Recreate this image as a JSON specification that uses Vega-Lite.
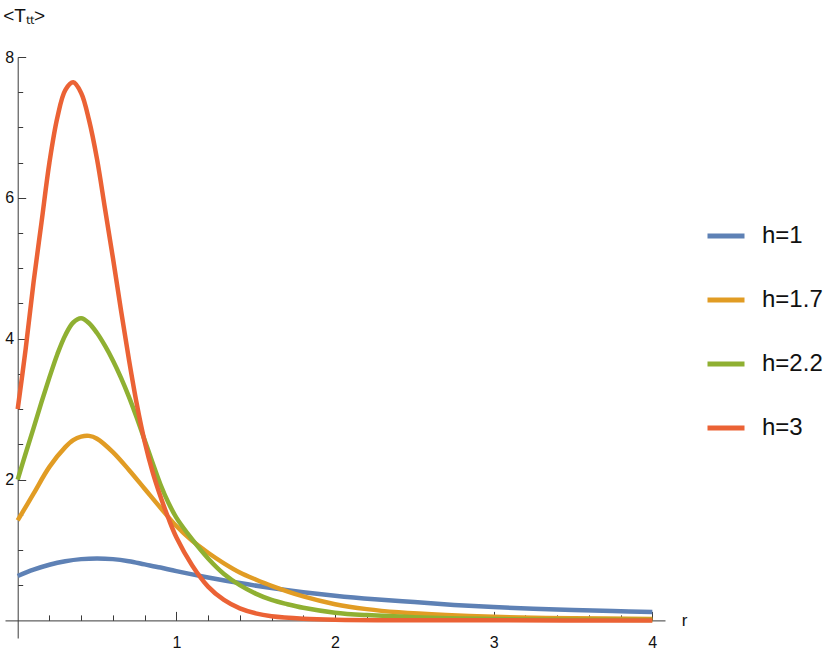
{
  "$schema": "https://vega.github.io/schema/vega-lite/v6.json",
  "width": 660,
  "height": 581,
  "autosize": "none",
  "padding": {"left": 5, "top": 57, "right": 165, "bottom": 26},
  "config": {
    "view": {"stroke": null},
    "axis": {
      "grid": false,
      "domainColor": "#3a3a3a",
      "tickColor": "#3a3a3a",
      "labelColor": "#111111",
      "titleColor": "#111111",
      "labelFont": "Liberation Sans",
      "titleFont": "Liberation Sans",
      "labelFontSize": 16,
      "titleFontSize": 17,
      "titleFontWeight": "normal"
    },
    "legend": {
      "labelFont": "Liberation Sans",
      "labelFontSize": 24,
      "labelColor": "#111111"
    }
  },
  "data": {
    "values": [
      {"h": "h=1", "r": 0, "T": 0.63},
      {"h": "h=1", "r": 0.1, "T": 0.72},
      {"h": "h=1", "r": 0.2, "T": 0.79},
      {"h": "h=1", "r": 0.3, "T": 0.84},
      {"h": "h=1", "r": 0.4, "T": 0.87},
      {"h": "h=1", "r": 0.5, "T": 0.88},
      {"h": "h=1", "r": 0.6, "T": 0.87},
      {"h": "h=1", "r": 0.7, "T": 0.84},
      {"h": "h=1", "r": 0.8, "T": 0.795},
      {"h": "h=1", "r": 0.9, "T": 0.75},
      {"h": "h=1", "r": 1.0, "T": 0.70},
      {"h": "h=1", "r": 1.2, "T": 0.61},
      {"h": "h=1", "r": 1.4, "T": 0.53},
      {"h": "h=1", "r": 1.6, "T": 0.46},
      {"h": "h=1", "r": 1.8, "T": 0.40},
      {"h": "h=1", "r": 2.0, "T": 0.35},
      {"h": "h=1", "r": 2.25, "T": 0.30},
      {"h": "h=1", "r": 2.5, "T": 0.26},
      {"h": "h=1", "r": 2.75, "T": 0.22},
      {"h": "h=1", "r": 3.0, "T": 0.19},
      {"h": "h=1", "r": 3.25, "T": 0.165},
      {"h": "h=1", "r": 3.5, "T": 0.148},
      {"h": "h=1", "r": 3.75, "T": 0.132},
      {"h": "h=1", "r": 4.0, "T": 0.118},
      {"h": "h=1.7", "r": 0, "T": 1.42},
      {"h": "h=1.7", "r": 0.1, "T": 1.80},
      {"h": "h=1.7", "r": 0.2, "T": 2.18},
      {"h": "h=1.7", "r": 0.3, "T": 2.46},
      {"h": "h=1.7", "r": 0.35, "T": 2.56},
      {"h": "h=1.7", "r": 0.4, "T": 2.61},
      {"h": "h=1.7", "r": 0.45, "T": 2.62},
      {"h": "h=1.7", "r": 0.5, "T": 2.58},
      {"h": "h=1.7", "r": 0.6, "T": 2.39},
      {"h": "h=1.7", "r": 0.7, "T": 2.14},
      {"h": "h=1.7", "r": 0.8, "T": 1.87},
      {"h": "h=1.7", "r": 0.9, "T": 1.6},
      {"h": "h=1.7", "r": 1.0, "T": 1.34},
      {"h": "h=1.7", "r": 1.1, "T": 1.13},
      {"h": "h=1.7", "r": 1.2, "T": 0.96},
      {"h": "h=1.7", "r": 1.3, "T": 0.81},
      {"h": "h=1.7", "r": 1.4, "T": 0.68},
      {"h": "h=1.7", "r": 1.5, "T": 0.58},
      {"h": "h=1.7", "r": 1.6, "T": 0.49},
      {"h": "h=1.7", "r": 1.8, "T": 0.34},
      {"h": "h=1.7", "r": 2.0, "T": 0.23},
      {"h": "h=1.7", "r": 2.2, "T": 0.16},
      {"h": "h=1.7", "r": 2.4, "T": 0.115},
      {"h": "h=1.7", "r": 2.7, "T": 0.075},
      {"h": "h=1.7", "r": 3.0, "T": 0.05},
      {"h": "h=1.7", "r": 3.5, "T": 0.03},
      {"h": "h=1.7", "r": 4.0, "T": 0.02},
      {"h": "h=2.2", "r": 0, "T": 2.0},
      {"h": "h=2.2", "r": 0.05, "T": 2.37},
      {"h": "h=2.2", "r": 0.1, "T": 2.73},
      {"h": "h=2.2", "r": 0.15, "T": 3.1},
      {"h": "h=2.2", "r": 0.2, "T": 3.45},
      {"h": "h=2.2", "r": 0.25, "T": 3.78},
      {"h": "h=2.2", "r": 0.3, "T": 4.05},
      {"h": "h=2.2", "r": 0.35, "T": 4.23},
      {"h": "h=2.2", "r": 0.4, "T": 4.29},
      {"h": "h=2.2", "r": 0.45, "T": 4.22},
      {"h": "h=2.2", "r": 0.5, "T": 4.08},
      {"h": "h=2.2", "r": 0.55, "T": 3.9},
      {"h": "h=2.2", "r": 0.6, "T": 3.69},
      {"h": "h=2.2", "r": 0.65, "T": 3.45},
      {"h": "h=2.2", "r": 0.7, "T": 3.18},
      {"h": "h=2.2", "r": 0.75, "T": 2.88},
      {"h": "h=2.2", "r": 0.8, "T": 2.56},
      {"h": "h=2.2", "r": 0.85, "T": 2.24},
      {"h": "h=2.2", "r": 0.9, "T": 1.93},
      {"h": "h=2.2", "r": 0.95, "T": 1.67},
      {"h": "h=2.2", "r": 1.0, "T": 1.46},
      {"h": "h=2.2", "r": 1.1, "T": 1.15},
      {"h": "h=2.2", "r": 1.2, "T": 0.88},
      {"h": "h=2.2", "r": 1.3, "T": 0.66},
      {"h": "h=2.2", "r": 1.4, "T": 0.5},
      {"h": "h=2.2", "r": 1.5, "T": 0.38},
      {"h": "h=2.2", "r": 1.6, "T": 0.29},
      {"h": "h=2.2", "r": 1.7, "T": 0.23},
      {"h": "h=2.2", "r": 1.8, "T": 0.18},
      {"h": "h=2.2", "r": 2.0, "T": 0.11},
      {"h": "h=2.2", "r": 2.2, "T": 0.075},
      {"h": "h=2.2", "r": 2.5, "T": 0.045},
      {"h": "h=2.2", "r": 3.0, "T": 0.02},
      {"h": "h=2.2", "r": 3.5, "T": 0.01},
      {"h": "h=2.2", "r": 4.0, "T": 0.005},
      {"h": "h=3", "r": 0, "T": 3.0},
      {"h": "h=3", "r": 0.05, "T": 3.85},
      {"h": "h=3", "r": 0.1, "T": 4.8},
      {"h": "h=3", "r": 0.15, "T": 5.65},
      {"h": "h=3", "r": 0.2, "T": 6.5},
      {"h": "h=3", "r": 0.25, "T": 7.14},
      {"h": "h=3", "r": 0.3, "T": 7.53},
      {"h": "h=3", "r": 0.35, "T": 7.64},
      {"h": "h=3", "r": 0.4, "T": 7.49},
      {"h": "h=3", "r": 0.45, "T": 7.1},
      {"h": "h=3", "r": 0.5, "T": 6.55},
      {"h": "h=3", "r": 0.55, "T": 5.85},
      {"h": "h=3", "r": 0.6, "T": 5.15},
      {"h": "h=3", "r": 0.65, "T": 4.42},
      {"h": "h=3", "r": 0.7, "T": 3.72},
      {"h": "h=3", "r": 0.75, "T": 3.08},
      {"h": "h=3", "r": 0.8, "T": 2.54},
      {"h": "h=3", "r": 0.85, "T": 2.11},
      {"h": "h=3", "r": 0.9, "T": 1.76},
      {"h": "h=3", "r": 0.95, "T": 1.45},
      {"h": "h=3", "r": 1.0, "T": 1.18},
      {"h": "h=3", "r": 1.1, "T": 0.78},
      {"h": "h=3", "r": 1.2, "T": 0.48},
      {"h": "h=3", "r": 1.3, "T": 0.29},
      {"h": "h=3", "r": 1.4, "T": 0.17},
      {"h": "h=3", "r": 1.5, "T": 0.1},
      {"h": "h=3", "r": 1.6, "T": 0.06},
      {"h": "h=3", "r": 1.8, "T": 0.025},
      {"h": "h=3", "r": 2.0, "T": 0.01},
      {"h": "h=3", "r": 2.5, "T": 0.002},
      {"h": "h=3", "r": 3.0, "T": 0.0005},
      {"h": "h=3", "r": 4.0, "T": 0}
    ]
  },
  "layer": [
    {
      "mark": {"type": "line", "strokeWidth": 4.5, "interpolate": "catmull-rom"},
      "encoding": {
        "x": {
          "field": "r",
          "type": "quantitative",
          "scale": {"domain": [-0.08, 4.08], "nice": false, "zero": false},
          "axis": {
            "orient": "bottom",
            "offset": -17.6,
            "values": [1, 2, 3, 4],
            "tickSize": -9,
            "labelPadding": 23,
            "title": "r",
            "titleAngle": 0,
            "titleX": 679,
            "titleY": 0,
            "titleAlign": "center",
            "titleBaseline": "middle"
          }
        },
        "y": {
          "field": "T",
          "type": "quantitative",
          "scale": {"domain": [-0.25, 8], "nice": false, "zero": false},
          "axis": {
            "orient": "left",
            "offset": -12.7,
            "values": [2, 4, 6, 8],
            "tickSize": -8,
            "labelPadding": 12,
            "title": "<Tₜₜ>",
            "titleFontSize": 19,
            "titleAngle": 0,
            "titleX": -15,
            "titleY": -51,
            "titleAlign": "left",
            "titleBaseline": "top"
          }
        },
        "color": {
          "field": "h",
          "type": "nominal",
          "scale": {
            "domain": ["h=1", "h=1.7", "h=2.2", "h=3"],
            "range": ["#5E81B5", "#E19C24", "#8FB032", "#EB6235"]
          },
          "legend": {
            "title": null,
            "orient": "none",
            "legendX": 700,
            "legendY": 158,
            "padding": 0,
            "symbolType": "stroke",
            "symbolSize": 1369,
            "symbolStrokeWidth": 5,
            "labelOffset": 15,
            "rowPadding": 31
          }
        }
      }
    },
    {
      "mark": {"type": "line", "opacity": 0},
      "encoding": {
        "x": {
          "field": "r",
          "type": "quantitative",
          "scale": {"domain": [-0.08, 4.08], "nice": false, "zero": false},
          "axis": {
            "orient": "bottom",
            "offset": -17.6,
            "values": [0.2, 0.4, 0.6, 0.8, 1.2, 1.4, 1.6, 1.8, 2.2, 2.4, 2.6, 2.8, 3.2, 3.4, 3.6, 3.8],
            "tickSize": -5.5,
            "labels": false,
            "domain": false,
            "title": null
          }
        },
        "y": {
          "field": "T",
          "type": "quantitative",
          "scale": {"domain": [-0.25, 8], "nice": false, "zero": false},
          "axis": {
            "orient": "left",
            "offset": -12.7,
            "values": [0.5, 1, 1.5, 2.5, 3, 3.5, 4.5, 5, 5.5, 6.5, 7, 7.5],
            "tickSize": -5,
            "labels": false,
            "domain": false,
            "title": null
          }
        },
        "detail": {"field": "h", "type": "nominal"}
      }
    }
  ],
  "resolve": {"axis": {"x": "independent", "y": "independent"}}
}
